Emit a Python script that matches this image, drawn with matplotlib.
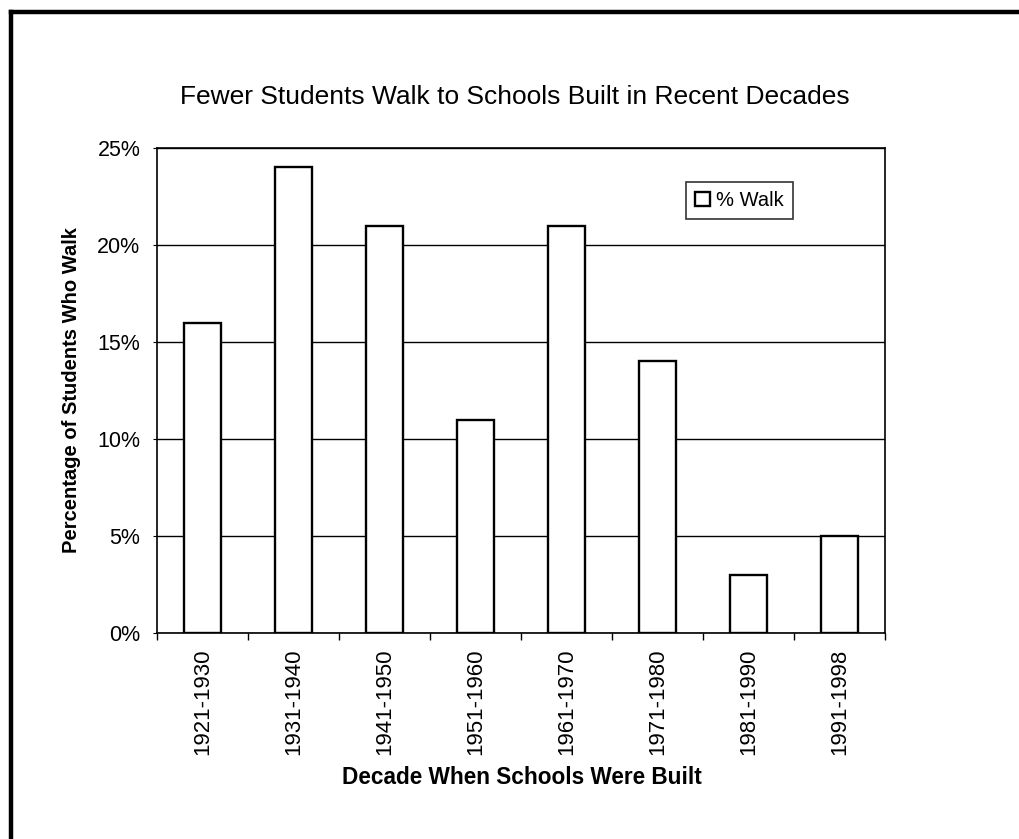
import matplotlib
matplotlib.use('Agg')
import matplotlib.pyplot as plt
from matplotlib.lines import Line2D
import numpy as np

plt.rcParams['font.family'] = ['Liberation Sans', 'DejaVu Sans']

decades = ['1921-1930', '1931-1940', '1941-1950', '1951-1960',
           '1961-1970', '1971-1980', '1981-1990', '1991-1998']
pct_walk = [16, 24, 21, 11, 21, 14, 3, 5]

W, H = 1019, 839
fig = plt.figure(figsize=(W / 100, H / 100), dpi=100)
ax = fig.add_axes([157 / W, 1 - 633 / H, 728 / W, 485 / H])

x = np.arange(len(decades))
ax.bar(x, pct_walk, width=0.41, color='white', edgecolor='black',
       linewidth=1.7, label='% Walk', zorder=3)

ax.set_xlim(-0.5, len(decades) - 0.5)
ax.set_ylim(0, 25)
ax.set_yticks(np.arange(0, 26, 5))
ax.set_yticklabels([f'{v}%' for v in range(0, 26, 5)], fontsize=15.5)
ax.yaxis.grid(True, color='black', linewidth=1.0, zorder=0)

# category labels under the bars, tick marks between them
ax.set_xticks(x)
ax.set_xticklabels(decades, rotation=90, fontsize=16)
ax.tick_params(axis='x', length=0, pad=11)
ax.set_xticks(np.arange(-0.5, len(decades)), minor=True)
ax.tick_params(axis='x', which='minor', length=5, width=1, direction='out')
ax.tick_params(axis='y', length=3, width=0.8, pad=9)

for s in ax.spines.values():
    s.set_linewidth(1.2)

leg = ax.legend(loc='upper left', bbox_to_anchor=(0.727, 0.93), fontsize=14.5,
                frameon=True, fancybox=False, handlelength=0.75,
                handleheight=0.75, handletextpad=0.3, borderpad=0.45,
                borderaxespad=0)
leg.get_frame().set_edgecolor('black')
leg.get_frame().set_linewidth(1.2)

fig.text(515 / W, 1 - 97 / H, 'Fewer Students Walk to Schools Built in Recent Decades',
         ha='center', va='center', fontsize=19)
fig.text(72 / W, 1 - 390 / H, 'Percentage of Students Who Walk', rotation=90,
         ha='center', va='center', fontsize=14.5, fontweight='bold')
fig.text(522 / W, 1 - 777 / H, 'Decade When Schools Were Built',
         ha='center', va='center', fontsize=16.3, fontweight='bold')

# heavy frame along the top and left edges
fig.add_artist(Line2D([11 / W, 11 / W], [0, 1 - 12 / H], color='black',
                      linewidth=3.2, transform=fig.transFigure))
fig.add_artist(Line2D([11 / W, 1], [1 - 12 / H, 1 - 12 / H], color='black',
                      linewidth=3.2, transform=fig.transFigure))

fig.savefig('out.png', dpi=100)
